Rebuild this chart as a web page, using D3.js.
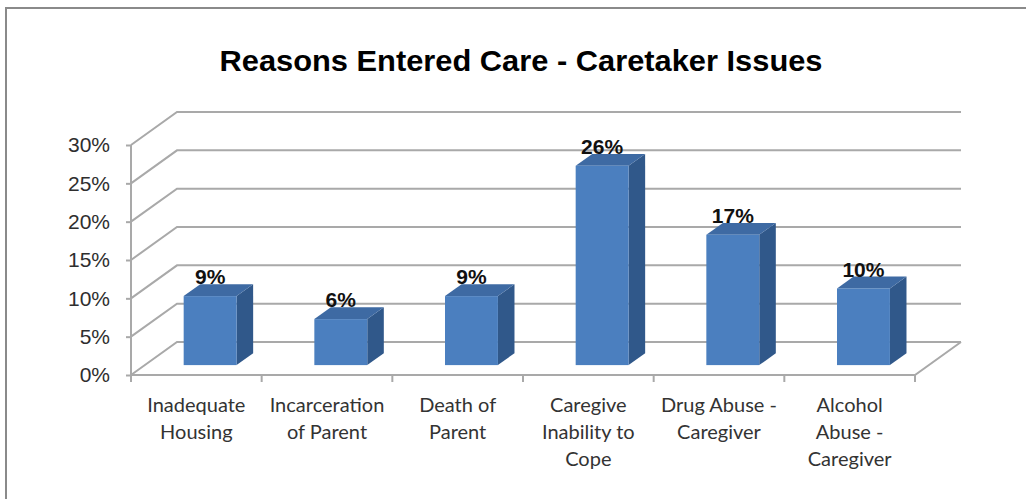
<!DOCTYPE html>
<html>
<head>
<meta charset="utf-8">
<script src="https://cdn.jsdelivr.net/npm/d3@7"></script>
<style>
  html, body { margin: 0; padding: 0; background: #ffffff; }
  svg { display: block; }
</style>
</head>
<body>
<svg id="chart" width="1026" height="499"></svg>
<script>
// Chart data
const title = "Reasons Entered Care - Caretaker Issues";
const categories = [
  "Inadequate\nHousing",
  "Incarceration\nof Parent",
  "Death of\nParent",
  "Caregive\nInability to\nCope",
  "Drug Abuse -\nCaregiver",
  "Alcohol\nAbuse -\nCaregiver"
];
const values = [0.09, 0.06, 0.09, 0.26, 0.17, 0.10];
const yTicks = [0, 0.05, 0.10, 0.15, 0.20, 0.25, 0.30];

const svg = d3.select("#chart");

// Outer frame of the chart area
svg.append("path")
  .attr("d", "M6,499 L6,8 L1026,8")
  .attr("fill", "none")
  .attr("stroke", "#8a8a8a")
  .attr("stroke-width", 2);

// Title
svg.append("text")
  .attr("x", 521)
  .attr("y", 71)
  .attr("text-anchor", "middle")
  .attr("font-family", "'Liberation Sans', Arial, sans-serif")
  .attr("font-weight", "bold")
  .attr("font-size", 30)
  .attr("textLength", 603)
  .attr("lengthAdjust", "spacingAndGlyphs")
  .attr("fill", "#000")
  .text(title);

// Plot geometry (front plane + depth vector for the 3D look)
const plotLeft = 131, plotRight = 915, plotBottom = 375, plotTop = 145;
const depth = { dx: 46, dy: -33 };

const x = d3.scaleBand().domain(categories).range([plotLeft, plotRight]);
const y = d3.scaleLinear().domain([0, 0.30]).range([plotBottom, plotTop]);

const gridColor = "#a9a9a9";
const grid = svg.append("g");

// Gridlines: side-wall diagonal + back-wall horizontal for each tick
yTicks.forEach(t => {
  const yy = y(t);
  grid.append("path")
    .attr("d", `M${plotLeft},${yy} L${plotLeft + depth.dx},${yy + depth.dy} L${plotRight + depth.dx},${yy + depth.dy}`)
    .attr("fill", "none")
    .attr("stroke", gridColor)
    .attr("stroke-width", 2);
});

// Floor: front edge and right edge
grid.append("path")
  .attr("d", `M${plotLeft},${y(0)} L${plotRight},${y(0)} L${plotRight + depth.dx},${y(0) + depth.dy}`)
  .attr("fill", "none")
  .attr("stroke", gridColor)
  .attr("stroke-width", 2);

// Y axis line and ticks
const yAxis = d3.axisLeft(y)
  .tickValues(yTicks)
  .tickFormat(d3.format(".0%"))
  .tickSize(5)
  .tickPadding(16);

const yAxisG = svg.append("g")
  .attr("transform", `translate(${plotLeft},0)`)
  .call(yAxis);
yAxisG.select(".domain")
  .attr("stroke", gridColor)
  .attr("stroke-width", 2)
  .attr("d", `M0,${plotTop}V${plotBottom}`);
yAxisG.selectAll(".tick line").attr("stroke", gridColor).attr("stroke-width", 2);
yAxisG.selectAll(".tick text")
  .attr("font-family", "'Liberation Sans', Arial, sans-serif")
  .attr("font-size", 21)
  .attr("fill", "#2e2e2e");

// X axis ticks at category boundaries
const boundaries = categories.map(c => x(c)).concat([plotRight]);
svg.append("g").selectAll("line")
  .data(boundaries)
  .join("line")
  .attr("x1", d => d).attr("x2", d => d)
  .attr("y1", plotBottom).attr("y2", plotBottom + 7)
  .attr("stroke", gridColor)
  .attr("stroke-width", 2);

// Category labels (multi-line)
const catG = svg.append("g")
  .attr("font-family", "Lato, 'Open Sans', sans-serif")
  .attr("font-size", 20)
  .attr("fill", "#333")
  .attr("text-anchor", "middle");
categories.forEach(c => {
  const t = catG.append("text")
    .attr("x", x(c) + x.bandwidth() / 2)
    .attr("y", 412);
  c.split("\n").forEach((line, i) => {
    t.append("tspan")
      .attr("x", x(c) + x.bandwidth() / 2)
      .attr("dy", i === 0 ? 0 : 27)
      .text(line);
  });
});

// 3D bars
const frontDepth = 0.30;   // where the bar's front face sits inside the floor
const barDepth = 0.36;     // bar thickness as a fraction of floor depth
const barWidth = x.bandwidth() * 0.405;
const off0 = { dx: depth.dx * frontDepth, dy: depth.dy * frontDepth };
const bd = { dx: depth.dx * barDepth, dy: depth.dy * barDepth };

const bars = svg.append("g");
categories.forEach((c, i) => {
  const v = values[i];
  const cx = x(c) + x.bandwidth() / 2 + off0.dx;
  const x0 = cx - barWidth / 2, x1 = cx + barWidth / 2;
  const yb = y(0) + off0.dy;
  const yt = y(v) + off0.dy;
  const g = bars.append("g");
  // side face
  g.append("path")
    .attr("d", `M${x1},${yb} L${x1 + bd.dx},${yb + bd.dy} L${x1 + bd.dx},${yt + bd.dy} L${x1},${yt} Z`)
    .attr("fill", "#30588a");
  // top face
  g.append("path")
    .attr("d", `M${x0},${yt} L${x1},${yt} L${x1 + bd.dx},${yt + bd.dy} L${x0 + bd.dx},${yt + bd.dy} Z`)
    .attr("fill", "#3e6aa3");
  // front face
  g.append("rect")
    .attr("x", x0).attr("y", yt)
    .attr("width", barWidth).attr("height", yb - yt)
    .attr("fill", "#4b7fbf");
  // value label
  g.append("text")
    .attr("x", cx)
    .attr("y", yt + bd.dy)
    .attr("text-anchor", "middle")
    .attr("font-family", "'Liberation Sans', Arial, sans-serif")
    .attr("font-weight", "bold")
    .attr("font-size", 21)
    .attr("fill", "#111")
    .text(d3.format(".0%")(v));
});
</script>
</body>
</html>
